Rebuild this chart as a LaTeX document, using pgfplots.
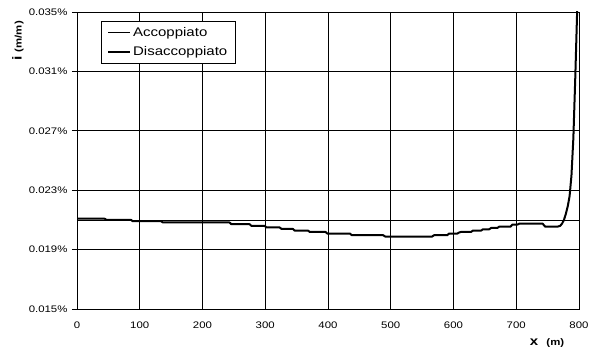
\documentclass[border=0pt]{standalone}
\usepackage{fontspec}
\setmainfont{Liberation Sans}[FakeStretch=1.2]
\usepackage{pgfplots}
\pgfplotsset{compat=1.18}
\begin{document}
\begin{tikzpicture}
\begin{axis}[
  scale only axis,
  width=502bp, height=297bp,
  xmin=0, xmax=800, ymin=0.015, ymax=0.035,
  xtick={0,100,...,800},
  ytick={0.015,0.019,0.023,0.027,0.031,0.035},
  yticklabels={0.015\%,0.019\%,0.023\%,0.027\%,0.031\%,0.035\%},
  /pgf/number format/assume math mode=true,
  scaled y ticks=false,
  grid=major,
  major grid style={black, line width=0.6bp},
  axis line style={black, line width=0.8bp},
  ytick pos=left, xtick pos=bottom,
  tick align=outside,
  major tick length=5bp,
  y tick style={black, line width=0.6bp},
  x tick style={draw=none},
  tick label style={font=\fontsize{9.5bp}{11bp}\selectfont, black},
  yticklabel style={xshift=-1bp},
  xticklabel style={yshift=-4bp},
  legend style={at={(axis cs:38,0.03441)}, anchor=north west, draw=black, line width=0.6bp,
    font=\fontsize{12.5bp}{14bp}\selectfont, inner xsep=6bp, inner ysep=4bp,
    row sep=5bp, fill=white},
  legend cell align=left,
  legend image code/.code={\draw[#1] (0bp,0bp) -- (22bp,0bp);},
  clip=true,
]
\addplot[black, line width=0.8bp] coordinates {(0,0.02098) (800,0.02098)};
\addlegendentry{Accoppiato}
\addplot[black, line width=2bp, line join=round] coordinates {
(0,0.02108) (44,0.02108) (47,0.02100) (86,0.02100) (89,0.02091) (134,0.02091)
(137,0.02083) (243,0.02083) (246,0.02071) (275,0.02071) (278,0.02060) (299,0.02060)
(302,0.02049) (323,0.02049) (326,0.02039) (344,0.02039) (347,0.02028) (368,0.02028)
(371,0.02019) (396,0.02019) (399,0.02008) (435,0.02008) (438,0.01997) (488,0.01997)
(491,0.01988) (566,0.01988) (569,0.01997) (590,0.01997) (593,0.02008) (606,0.02008)
(609,0.02015) (612,0.02019) (628,0.02019) (631,0.02028) (644,0.02028) (647,0.02037)
(657,0.02037) (660,0.02046) (670,0.02046) (673,0.02055) (691,0.02055) (694,0.02069)
(702,0.02069) (705,0.02075) (742,0.02075) (746,0.02055) (766,0.02055) (770,0.02060)
(773,0.02075) (776,0.02100) (779,0.02140) (782,0.02190) (785,0.02260) (788,0.02400)
(791,0.02650) (794,0.03050) (797,0.03500) (798,0.03650)};
\addlegendentry{Disaccoppiato}
\coordinate (o) at (rel axis cs:0,0);
\coordinate (tl) at (rel axis cs:0,1);
\coordinate (br) at (rel axis cs:1,0);
\end{axis}
\node[rotate=90, font=\bfseries] at ([xshift=-59bp,yshift=-29bp]tl)
  {\fontsize{13bp}{15bp}\selectfont i \fontsize{9.5bp}{11bp}\selectfont (m/m)};
\node[font=\bfseries] at ([xshift=-32bp,yshift=-34bp]br)
  {\fontsize{12.5bp}{14bp}\selectfont x\ \ \fontsize{9.5bp}{11bp}\selectfont (m)};
\pgfresetboundingbox
\path[use as bounding box] (o) ++(-77bp,-41bp) rectangle ++(592bp,350bp);
\end{tikzpicture}
\end{document}
